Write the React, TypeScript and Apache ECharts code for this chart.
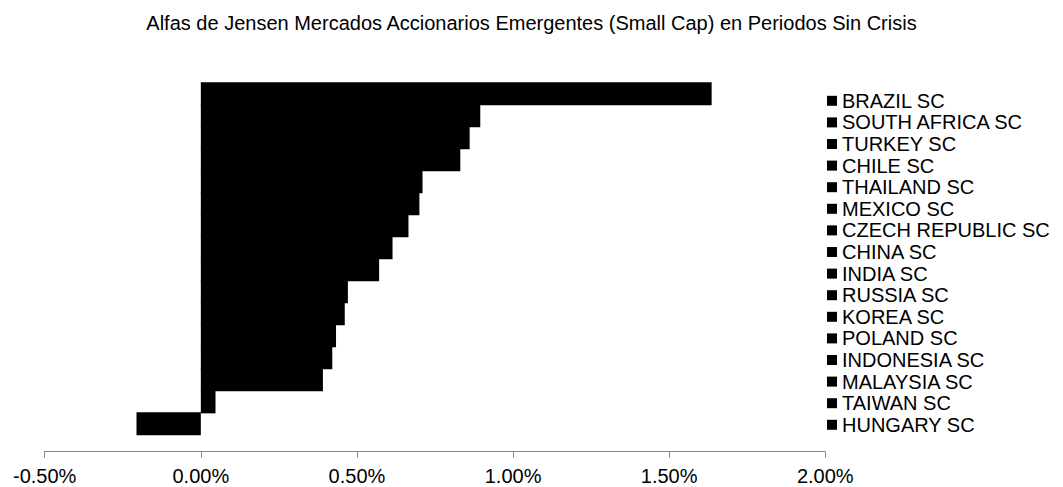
import React, { useEffect, useRef } from "react";
import * as echarts from "echarts";

const titleText =
  "Alfas de Jensen Mercados Accionarios Emergentes (Small Cap) en Periodos Sin Crisis";

const seriesNames = [
  "BRAZIL SC",
  "SOUTH AFRICA SC",
  "TURKEY SC",
  "CHILE SC",
  "THAILAND SC",
  "MEXICO SC",
  "CZECH REPUBLIC SC",
  "CHINA SC",
  "INDIA SC",
  "RUSSIA SC",
  "KOREA SC",
  "POLAND SC",
  "INDONESIA SC",
  "MALAYSIA SC",
  "TAIWAN SC",
  "HUNGARY SC",
];

// Jensen's alpha, in percent
const alphaValues = [
  1.636, 0.895, 0.861, 0.831, 0.71, 0.7, 0.665, 0.614, 0.571, 0.471, 0.461,
  0.433, 0.421, 0.391, 0.047, -0.206,
];

const category = ["Alfa"];

const xMin = -0.5;
const xMax = 2.0;
const xStep = 0.5;

const FONT = "'Liberation Sans', Arial, sans-serif";

export default function App() {
  const ref = useRef<HTMLDivElement>(null);

  useEffect(() => {
    if (!ref.current) return;
    const chart = echarts.init(ref.current, undefined, { renderer: "svg" });

    const series = seriesNames.map((name, i) => ({
      name,
      type: "bar",
      data: [alphaValues[i]],
      barWidth: 23,
      barGap: (-100 / 23).toFixed(3) + "%",
      itemStyle: { color: "#000000" },
    }));

    chart.setOption({
      animation: false,
      backgroundColor: "#ffffff",
      title: {
        text: titleText,
        left: "center",
        top: 8,
        textStyle: {
          fontFamily: FONT,
          fontSize: 20,
          fontWeight: "normal",
          color: "#000000",
        },
      },
      legend: {
        orient: "vertical",
        left: 827,
        top: 90,
        itemWidth: 10,
        itemHeight: 10,
        itemGap: 0,
        icon: "rect",
        data: seriesNames,
        textStyle: {
          fontFamily: FONT,
          fontSize: 20,
          color: "#000000",
          lineHeight: 21.6,
          padding: [0, 0, 0, 0],
        },
        padding: 0,
      },
      grid: {
        left: 44.7,
        right: 237.7,
        top: 66,
        bottom: 35.3,
        containLabel: false,
      },
      xAxis: {
        type: "value",
        min: xMin,
        max: xMax,
        interval: xStep,
        splitLine: { show: false },
        axisLine: { show: true, lineStyle: { color: "#888888", width: 1 } },
        axisTick: {
          show: true,
          length: 6,
          lineStyle: { color: "#888888" },
        },
        axisLabel: {
          margin: 14,
          fontFamily: FONT,
          fontSize: 20,
          color: "#000000",
          formatter: (v: number) => v.toFixed(2) + "%",
        },
      },
      yAxis: {
        type: "category",
        data: category,
        axisLine: { show: false },
        axisTick: { show: false },
        axisLabel: { show: false },
        splitLine: { show: false },
      },
      series,
    });

    return () => {
      chart.dispose();
    };
  }, []);

  return (
    <div
      ref={ref}
      style={{
        position: "fixed",
        left: 0,
        top: 0,
        width: 1063,
        height: 487,
      }}
    />
  );
}
